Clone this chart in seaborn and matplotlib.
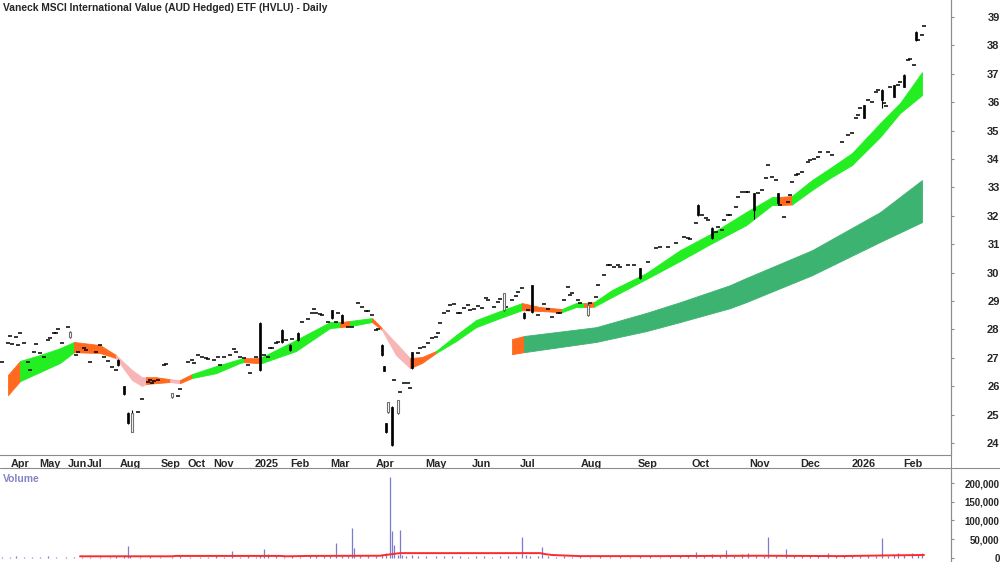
import numpy as np
import pandas as pd
import seaborn as sns
import matplotlib
matplotlib.use("Agg")
import matplotlib.pyplot as plt
from matplotlib.lines import Line2D
from matplotlib.ticker import FuncFormatter

# ---- data (x = trading-bar index) ----
title = "Vaneck MSCI International Value (AUD Hedged) ETF (HVLU) - Daily"

month_bar = [5.5, 19.5, 34, 43.5, 60, 80.5, 94, 106.5, 127.5, 145, 165, 188,
             212.5, 236, 260, 290.5, 319, 345.5, 374.5, 400, 426, 451.5]
month_lab = ["Apr", "May", "Jun", "Jul", "Aug", "Sep", "Oct", "Nov", "2025", "Feb", "Mar", "Apr",
             "May", "Jun", "Jul", "Aug", "Sep", "Oct", "Nov", "Dec", "2026", "Feb"]

# small doji / dash bars
dash_bar = [1, 4, 5, 6, 8, 9, 10, 12, 14, 15, 17, 18, 20, 22, 24, 25, 27, 28, 29, 31,
            34, 38, 39, 42, 43, 45, 48, 50, 52, 54, 56, 58, 69, 71, 74, 75, 76, 77, 79, 82,
            83, 89, 90, 94, 96, 97, 99, 101, 103, 104, 107, 109, 110, 112, 115, 117, 118, 120, 122, 124,
            125, 128, 132, 134, 135, 136, 138, 139, 143, 146, 151, 154, 156, 157, 158, 160, 161, 164, 168, 169,
            174, 176, 179, 181, 183, 184, 186, 188, 189, 197, 200, 202, 204, 205, 209, 210, 212, 214, 216, 218,
            219, 220, 222, 224, 225, 227, 229, 230, 232, 234, 235, 237, 239, 241, 243, 244, 247, 249, 250, 253,
            256, 258, 259, 261, 264, 269, 272, 274, 276, 279, 280, 282, 284, 285, 286, 289, 290, 295, 298, 299,
            302, 304, 305, 307, 309, 310, 314, 317, 324, 328, 330, 334, 338, 342, 344, 345, 348, 351, 353, 354,
            358, 359, 361, 362, 364, 365, 368, 369, 371, 373, 374, 379, 381, 383, 384, 386, 388, 390, 392, 394,
            395, 396, 398, 399, 401, 404, 405, 407, 409, 410, 414, 416, 421, 424, 426, 428, 429, 430, 434, 436,
            438, 439, 442, 443, 445, 449, 450, 454, 455, 457, 459, 461, 462]
dash_px = [26.85, 27.52, 27.77, 27.49, 27.73, 27.45, 27.87, 27.52, 26.85, 26.57, 27.20, 27.49, 27.17, 27.03, 27.63, 27.70, 27.87, 27.87, 28.01, 27.52,
           28.08, 27.10, 27.20, 27.35, 27.27, 26.85, 27.20, 27.45, 27.03, 26.89, 26.68, 26.57, 25.09, 25.55, 26.15, 26.22, 26.11, 26.18, 26.22, 26.75,
           26.78, 25.66, 25.90, 26.85, 26.92, 26.82, 27.10, 27.03, 26.99, 26.96, 26.92, 27.03, 26.75, 27.03, 27.10, 27.31, 27.20, 27.03, 26.99, 26.75,
           26.46, 27.03, 27.10, 27.03, 27.34, 27.34, 27.52, 27.56, 27.63, 27.66, 28.26, 28.37, 28.58, 28.72, 28.58, 28.54, 28.51, 28.26, 28.26, 28.58,
           28.08, 28.08, 28.93, 28.79, 28.65, 28.65, 28.51, 27.98, 28.01, 26.22, 25.80, 26.11, 26.11, 25.94, 27.17, 27.34, 27.38, 27.52, 27.70, 27.73,
           27.87, 28.22, 28.58, 28.65, 28.86, 28.89, 28.58, 28.58, 28.75, 28.86, 28.68, 28.72, 28.82, 28.75, 29.10, 29.03, 28.79, 28.96, 29.07, 28.79,
           29.03, 29.17, 29.31, 29.45, 28.68, 28.51, 28.89, 28.72, 28.44, 28.58, 28.58, 29.03, 29.49, 29.21, 29.28, 29.03, 28.93, 28.93, 29.14, 29.56,
           29.92, 30.27, 30.27, 30.20, 30.27, 30.20, 30.27, 30.27, 30.37, 30.86, 30.90, 30.90, 31.04, 31.25, 31.22, 31.18, 31.75, 32.03, 31.92, 31.85,
           31.43, 31.60, 31.50, 31.85, 32.03, 32.03, 32.31, 32.66, 32.84, 32.84, 32.84, 32.80, 32.91, 33.33, 33.79, 33.37, 33.26, 32.38, 31.96, 32.49,
           32.73, 33.19, 33.44, 33.47, 33.54, 33.89, 33.96, 34.00, 34.07, 34.25, 34.25, 34.14, 34.60, 34.85, 34.92, 35.45, 35.55, 35.80, 36.08, 36.01,
           36.36, 36.43, 35.97, 35.87, 36.54, 36.61, 36.71, 37.49, 37.52, 37.31, 38.19, 38.37, 38.68]

# candles with a visible body
body_bar = [35, 59, 62, 64, 66, 86, 130, 141, 145, 149, 166, 171, 191, 192, 193, 194, 196,
            199, 206, 252, 262, 266, 294, 320, 349, 356, 377, 389, 432, 441, 447, 452, 458]
body_open = [27.72, 26.92, 26.00, 25.05, 24.40, 25.62, 28.22, 27.98, 27.45, 27.87, 28.68, 28.51, 27.45, 26.70, 24.70, 25.09, 25.27,
             25.05, 27.20, 28.68, 28.58, 29.56, 28.51, 30.16, 32.38, 31.57, 32.80, 32.80, 35.90, 36.43, 36.60, 36.96, 38.47]
body_close = [27.92, 26.75, 25.72, 24.70, 25.05, 25.75, 26.57, 27.56, 27.27, 27.63, 28.40, 28.23, 27.10, 26.55, 24.39, 25.44, 23.93,
              25.51, 26.64, 29.28, 28.40, 28.61, 28.86, 29.81, 32.03, 31.22, 32.20, 32.45, 35.45, 36.08, 36.20, 36.54, 38.19]
body_high = [27.95, 26.95, 26.02, 25.10, 25.15, 25.78, 28.25, 28.00, 27.48, 27.90, 28.70, 28.55, 27.48, 26.72, 24.72, 25.46, 25.30,
             25.53, 27.22, 29.30, 28.60, 29.58, 28.88, 30.18, 32.40, 31.60, 32.82, 32.82, 35.92, 36.45, 36.62, 36.98, 38.50]
body_low = [27.70, 26.72, 25.70, 24.66, 24.38, 25.60, 26.55, 27.54, 27.25, 27.61, 28.38, 28.21, 27.08, 26.53, 24.37, 25.07, 23.90,
            25.03, 26.62, 28.66, 28.38, 28.59, 28.49, 29.79, 32.01, 31.20, 31.90, 32.43, 35.43, 35.80, 36.18, 36.52, 38.17]

# short-term average band (g = rising, o = flat/crossing, p = falling)
st_bar = [4, 10, 20, 30, 37, 50, 58, 66, 71, 73, 78, 85, 90, 96, 108, 120, 122, 128, 131, 148,
          165, 170, 175, 186, 191, 198, 205, 211, 218, 228, 238, 250, 261, 270, 281, 288, 292, 297, 306, 323,
          340, 356, 373, 386, 389, 396, 406, 415, 426, 440, 450, 461]
st_hi = [26.40, 26.89, 27.10, 27.34, 27.56, 27.45, 27.10, 26.57, 26.32, 26.32, 26.32, 26.25, 26.22, 26.43, 26.71, 26.96, 26.99, 26.99, 27.03, 27.63,
         28.26, 28.26, 28.30, 28.40, 28.05, 27.52, 26.99, 27.03, 27.24, 27.80, 28.33, 28.65, 28.93, 28.79, 28.72, 28.93, 28.93, 28.96, 29.39, 29.98,
         30.79, 31.39, 32.13, 32.66, 32.66, 32.70, 33.26, 33.68, 34.21, 35.26, 35.97, 37.06]
st_lo = [25.69, 26.18, 26.50, 26.82, 27.20, 27.17, 26.99, 26.22, 26.01, 26.08, 26.11, 26.15, 26.11, 26.29, 26.46, 26.82, 26.85, 26.82, 26.82, 27.24,
         28.05, 28.08, 28.12, 28.26, 27.98, 27.10, 26.64, 26.82, 27.17, 27.59, 28.08, 28.40, 28.68, 28.65, 28.61, 28.79, 28.79, 28.80, 29.14, 29.77,
         30.41, 31.04, 31.67, 32.38, 32.38, 32.40, 32.91, 33.33, 33.79, 34.77, 35.62, 36.25]
st_col = ["o", "g", "g", "g", "o", "o", "p", "p", "p", "o", "o", "p", "o", "g", "g", "g", "o", "o", "g", "g",
          "g", "o", "g", "o", "p", "p", "o", "o", "g", "g", "g", "g", "o", "o", "g", "g", "o", "g", "g", "g",
          "g", "g", "g", "g", "o", "g", "g", "g", "g", "g", "g", "g"]

# long-term average band
lt_bar = [256, 262, 298, 323, 340, 365, 373, 406, 440, 461]
lt_hi = [27.66, 27.77, 28.08, 28.58, 28.96, 29.56, 29.81, 30.79, 32.13, 33.26]
lt_lo = [27.13, 27.20, 27.56, 27.94, 28.26, 28.75, 28.96, 29.91, 31.08, 31.78]
lt_col = ["o", "d", "d", "d", "d", "d", "d", "d", "d", "d"]

# volume (thousands of shares)
vol_bar = [1, 5, 8, 12, 16, 20, 24, 28, 33, 37, 41, 45, 50, 55, 58, 62, 64, 65, 70, 75,
           80, 86, 90, 95, 100, 104, 108, 112, 116, 120, 124, 128, 130, 132, 134, 138, 142, 146, 150, 155,
           158, 162, 165, 168, 171, 174, 176, 177, 180, 184, 188, 191, 193, 195, 196, 197, 199, 200, 201, 203,
           206, 209, 213, 218, 222, 226, 230, 234, 238, 242, 246, 250, 254, 258, 261, 263, 265, 269, 271, 274,
           278, 282, 286, 290, 295, 300, 305, 310, 315, 320, 325, 330, 335, 340, 344, 348, 352, 356, 360, 363,
           367, 371, 374, 378, 382, 384, 388, 393, 397, 401, 405, 409, 414, 418, 422, 426, 430, 434, 438, 441,
           444, 447, 449, 452, 456, 459, 461]
vol_k = [3, 2, 4, 3, 2, 3, 4, 2, 3, 2, 3, 2, 3, 2, 4, 8, 32, 5, 3, 4,
         2, 3, 4, 3, 2, 3, 5, 3, 19, 3, 4, 3, 8, 24, 10, 4, 3, 5, 3, 8,
         4, 5, 6, 40, 5, 6, 80, 27, 4, 6, 5, 10, 13, 216, 72, 35, 9, 75, 7, 5,
         8, 4, 6, 5, 4, 6, 5, 3, 5, 4, 3, 6, 4, 5, 56, 8, 6, 5, 29, 4,
         3, 4, 3, 5, 3, 4, 3, 4, 3, 5, 4, 3, 4, 5, 4, 16, 5, 10, 4, 21,
         5, 10, 12, 5, 4, 56, 6, 24, 5, 4, 6, 4, 12, 5, 4, 6, 5, 7, 5, 53,
         6, 8, 14, 7, 13, 8, 14]
ma_bar = [40, 86, 88, 140, 143, 155, 190, 194, 200, 270, 273, 276, 290, 330, 380, 420, 445, 462]
ma_k = [4.5, 4.5, 5.5, 5.5, 4.5, 5.5, 6, 9, 13, 13, 10, 8, 5, 5, 6, 5, 7, 8]

# ---- style ----
sns.set_style("white")
plt.rcParams["font.family"] = ["Liberation Sans", "DejaVu Sans"]
band_colors = {"g": "#22ee22", "o": "#ff6a1f", "p": "#f7b5b5", "d": "#3cb371"}
grey = "#8c8c8c"

W, H = 1000, 562
fig = plt.figure(figsize=(W / 100, H / 100), dpi=100)
ax = fig.add_axes([0, 107 / H, 951 / W, 455 / H])
vax = fig.add_axes([0, 0, 951 / W, 92 / H])


def draw_band(a, bars, hi, lo, cols):
    for i in range(len(bars) - 1):
        c = band_colors[cols[i]]
        a.fill_between(bars[i:i + 2], lo[i:i + 2], hi[i:i + 2], color=c, lw=0.6, zorder=2)


draw_band(ax, lt_bar, lt_hi, lt_lo, lt_col)
draw_band(ax, st_bar, st_hi, st_lo, st_col)

# dashes
ax.hlines(dash_px, np.array(dash_bar) - 0.8, np.array(dash_bar) + 0.8, color="black", lw=1.1, zorder=4)

# candles
cd = pd.DataFrame({"bar": body_bar, "open": body_open, "close": body_close,
                   "high": body_high, "low": body_low})
ax.vlines(cd["bar"], cd["low"], cd["high"], color="black", lw=0.8, zorder=4)
up = cd[cd["close"] >= cd["open"]]
dn = cd[cd["close"] < cd["open"]]
ax.bar(dn["bar"], dn["open"] - dn["close"], bottom=dn["close"], width=1.4,
       color="black", edgecolor="black", lw=0.5, zorder=5)
ax.bar(up["bar"], up["close"] - up["open"], bottom=up["open"], width=1.4,
       color="white", edgecolor="#707070", lw=0.8, zorder=5)

ax.set_xlim(0, 475.5)
ax.set_ylim(23.58, 39.6)
ax.yaxis.tick_right()
ax.set_yticks(range(24, 40))
ax.tick_params(axis="y", length=2, color=grey, pad=33, labelsize=8)
for t in ax.get_yticklabels():
    t.set_ha("right")
    t.set_fontweight("bold")
ax.set_xticks(month_bar, month_lab)
ax.tick_params(axis="x", direction="inout", length=3, color=grey, pad=1.3, labelsize=7.8)
for t in ax.get_xticklabels():
    t.set_ha("left")
    t.set_fontweight("bold")
for s in ["left", "top"]:
    ax.spines[s].set_visible(False)
for s in ["right", "bottom"]:
    ax.spines[s].set_color(grey)
    ax.spines[s].set_linewidth(0.8)

# volume panel
vax.vlines(vol_bar, 0, np.array(vol_k) * 1000, color="#7b7bd0", lw=0.9)
ma = pd.DataFrame({"bar": ma_bar, "vol": np.array(ma_k) * 1000})
sns.lineplot(data=ma, x="bar", y="vol", ax=vax, color="#ff2a2a", lw=1.4)
vax.set_xlim(0, 475.5)
vax.set_ylim(-10700, 234700)
vax.set_xticks([])
vax.set_xlabel("")
vax.set_ylabel("")
vax.yaxis.tick_right()
vax.set_yticks([0, 50000, 100000, 150000, 200000])
vax.yaxis.set_major_formatter(FuncFormatter(lambda v, p: f"{int(v):,}"))
vax.tick_params(axis="y", length=2, color=grey, pad=33, labelsize=7)
for t in vax.get_yticklabels():
    t.set_ha("right")
    t.set_fontweight("bold")
for s in ["left", "top", "bottom"]:
    vax.spines[s].set_visible(False)
vax.spines["right"].set_color(grey)

fig.add_artist(Line2D([0, 1], [1 - 468 / H] * 2, color=grey, lw=0.8))
fig.add_artist(Line2D([951 / W] * 2, [0, 1], color=grey, lw=0.8))

fig.text(3 / W, 1 - 8 / H, title, fontsize=7.4, fontweight="bold", va="center")
fig.text(3 / W, 1 - 479 / H, "Volume", fontsize=7.5, fontweight="bold", va="center", color="#8484c8")

fig.savefig("out.png", dpi=100)
